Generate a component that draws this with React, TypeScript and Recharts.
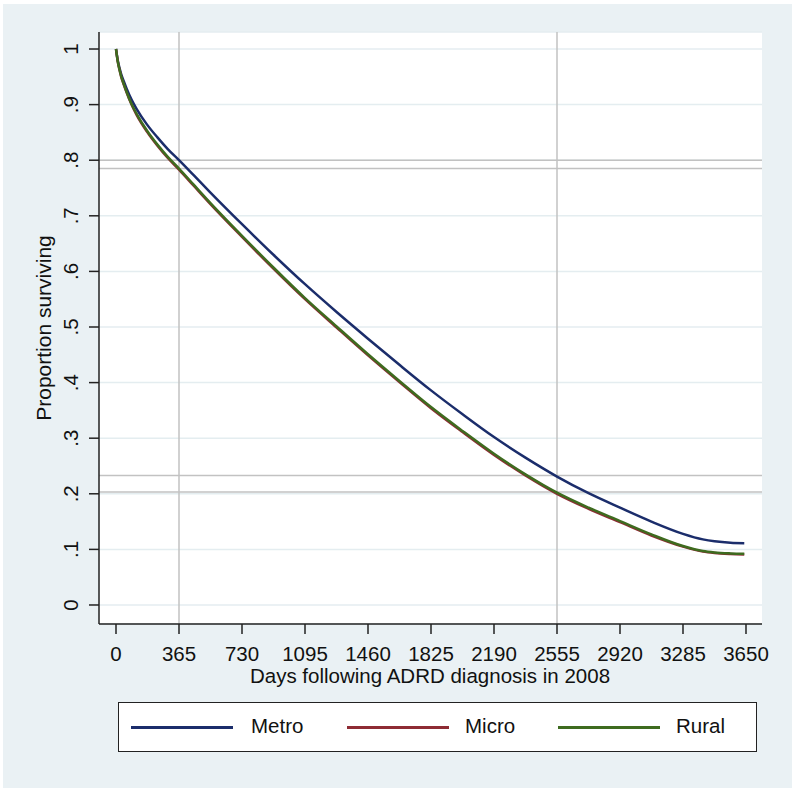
// Kaplan-Meier style survival curves, Stata look. Recharts.

import { CartesianGrid, Label, Line, LineChart, ReferenceLine, XAxis, YAxis } from "recharts";

const days = [0, 10, 20, 30, 45, 60, 90, 120, 180, 240, 300, 365, 450, 550, 730, 912, 1095, 1278, 1460, 1642, 1825, 2008, 2190, 2372, 2555, 2738, 2920, 3102, 3285, 3400, 3468, 3560, 3640];
const metro = [1.0, 0.98, 0.966, 0.955, 0.942, 0.93, 0.909, 0.892, 0.864, 0.841, 0.82, 0.8, 0.773, 0.741, 0.685, 0.63, 0.577, 0.527, 0.479, 0.432, 0.386, 0.343, 0.302, 0.265, 0.231, 0.201, 0.175, 0.15, 0.128, 0.118, 0.1145, 0.1118, 0.111];
const micro = [1.0, 0.978, 0.963, 0.95, 0.936, 0.923, 0.9, 0.881, 0.851, 0.826, 0.804, 0.783, 0.754, 0.72, 0.662, 0.605, 0.55, 0.499, 0.449, 0.401, 0.354, 0.311, 0.27, 0.233, 0.2, 0.173, 0.149, 0.125, 0.105, 0.096, 0.0935, 0.0918, 0.091];
const rural = [1.0, 0.978, 0.963, 0.951, 0.937, 0.924, 0.901, 0.883, 0.853, 0.828, 0.806, 0.785, 0.756, 0.722, 0.664, 0.607, 0.552, 0.501, 0.451, 0.403, 0.356, 0.313, 0.272, 0.235, 0.202, 0.175, 0.151, 0.127, 0.106, 0.097, 0.0945, 0.0928, 0.092];

const xTicks = [0, 365, 730, 1095, 1460, 1825, 2190, 2555, 2920, 3285, 3650];
const yTicks = [0, 0.1, 0.2, 0.3, 0.4, 0.5, 0.6, 0.7, 0.8, 0.9, 1];
const yTickLabels = ["0", ".1", ".2", ".3", ".4", ".5", ".6", ".7", ".8", ".9", "1"];

// survival at 1 and 7 years (Metro / Micro-Rural)
const refY = [0.8, 0.785, 0.233, 0.203];
const refX = [365, 2555];

const seriesNames = ["Metro", "Micro", "Rural"];
const seriesColors = ["#1b2d6b", "#8e2b34", "#3e6b1f"];

const FONT = "'Liberation Sans', Arial, sans-serif";
const BG = "#eaf1f4";

const data = days.map((d, i) => ({ day: d, Metro: metro[i], Micro: micro[i], Rural: rural[i] }));

function XTick(props: any) {
  const { x, y, payload } = props;
  return (
    <text x={x} y={y + 25} textAnchor="middle" fontFamily={FONT} fontSize={20.5} fill="#111">
      {payload.value}
    </text>
  );
}

function YTick(props: any) {
  const { x, y, payload } = props;
  const idx = yTicks.findIndex((t) => Math.abs(t - payload.value) < 1e-6);
  const lx = x - 9;
  return (
    <text x={lx} y={y} textAnchor="middle" transform={`rotate(-90, ${lx}, ${y})`} fontFamily={FONT} fontSize={20.5} fill="#111">
      {idx >= 0 ? yTickLabels[idx] : payload.value}
    </text>
  );
}

export default function App() {
  const legendLineLeft = [12, 228, 439];
  const legendTextLeft = [132, 346, 557];
  return (
    <div style={{ position: "absolute", left: 0, top: 0, width: 795, height: 792, background: "#fff" }}>
      <div style={{ position: "absolute", left: 3, top: 4, right: 3, bottom: 4, background: BG }} />
      <div style={{ position: "absolute", left: 0, top: 0 }}>
        <LineChart width={795} height={792} data={data} margin={{ top: 32, right: 33, bottom: 108, left: 0 }}>
          <CartesianGrid vertical={false} fill="#ffffff" stroke="#e4edf0" strokeWidth={1.5} />
          <XAxis
            dataKey="day"
            type="number"
            domain={[-98.5, 3742.7]}
            ticks={xTicks}
            allowDataOverflow
            height={60}
            tickSize={10}
            tick={<XTick />}
            stroke="#222"
            strokeWidth={1.5}
          >
            <Label
              content={() => (
                <text x={430} y={683} textAnchor="middle" fontFamily={FONT} fontSize={20.5} fill="#111">
                  Days following ADRD diagnosis in 2008
                </text>
              )}
            />
          </XAxis>
          <YAxis
            type="number"
            domain={[-0.0342, 1.0306]}
            ticks={yTicks}
            allowDataOverflow
            width={99}
            tickSize={10}
            tick={<YTick />}
            stroke="#222"
            strokeWidth={1.5}
          >
            <Label
              content={() => (
                <text x={51} y={328} textAnchor="middle" transform="rotate(-90, 51, 328)" fontFamily={FONT} fontSize={21} fill="#111">
                  Proportion surviving
                </text>
              )}
            />
          </YAxis>
          {refY.map((v) => (
            <ReferenceLine key={"y" + v} y={v} stroke="#c2c2c2" strokeWidth={1.5} />
          ))}
          {refX.map((v) => (
            <ReferenceLine key={"x" + v} x={v} stroke="#c2c2c2" strokeWidth={1.5} />
          ))}
          {seriesNames.map((n, i) => (
            <Line key={n} dataKey={n} type="monotone" stroke={seriesColors[i]} strokeWidth={2.5} dot={false} isAnimationActive={false} />
          ))}
        </LineChart>
      </div>
      <div
        style={{
          position: "absolute",
          left: 118,
          top: 702,
          width: 637,
          height: 48,
          background: "#fff",
          border: "1.5px solid #222",
          fontFamily: FONT,
          fontSize: 20.5,
          color: "#111",
        }}
      >
        {seriesNames.map((n, i) => (
          <div key={n}>
            <div
              style={{
                position: "absolute",
                left: legendLineLeft[i],
                top: 23,
                width: 102,
                height: 2.5,
                background: seriesColors[i],
              }}
            />
            <div style={{ position: "absolute", left: legendTextLeft[i], top: 11, lineHeight: "24px" }}>{n}</div>
          </div>
        ))}
      </div>
    </div>
  );
}
